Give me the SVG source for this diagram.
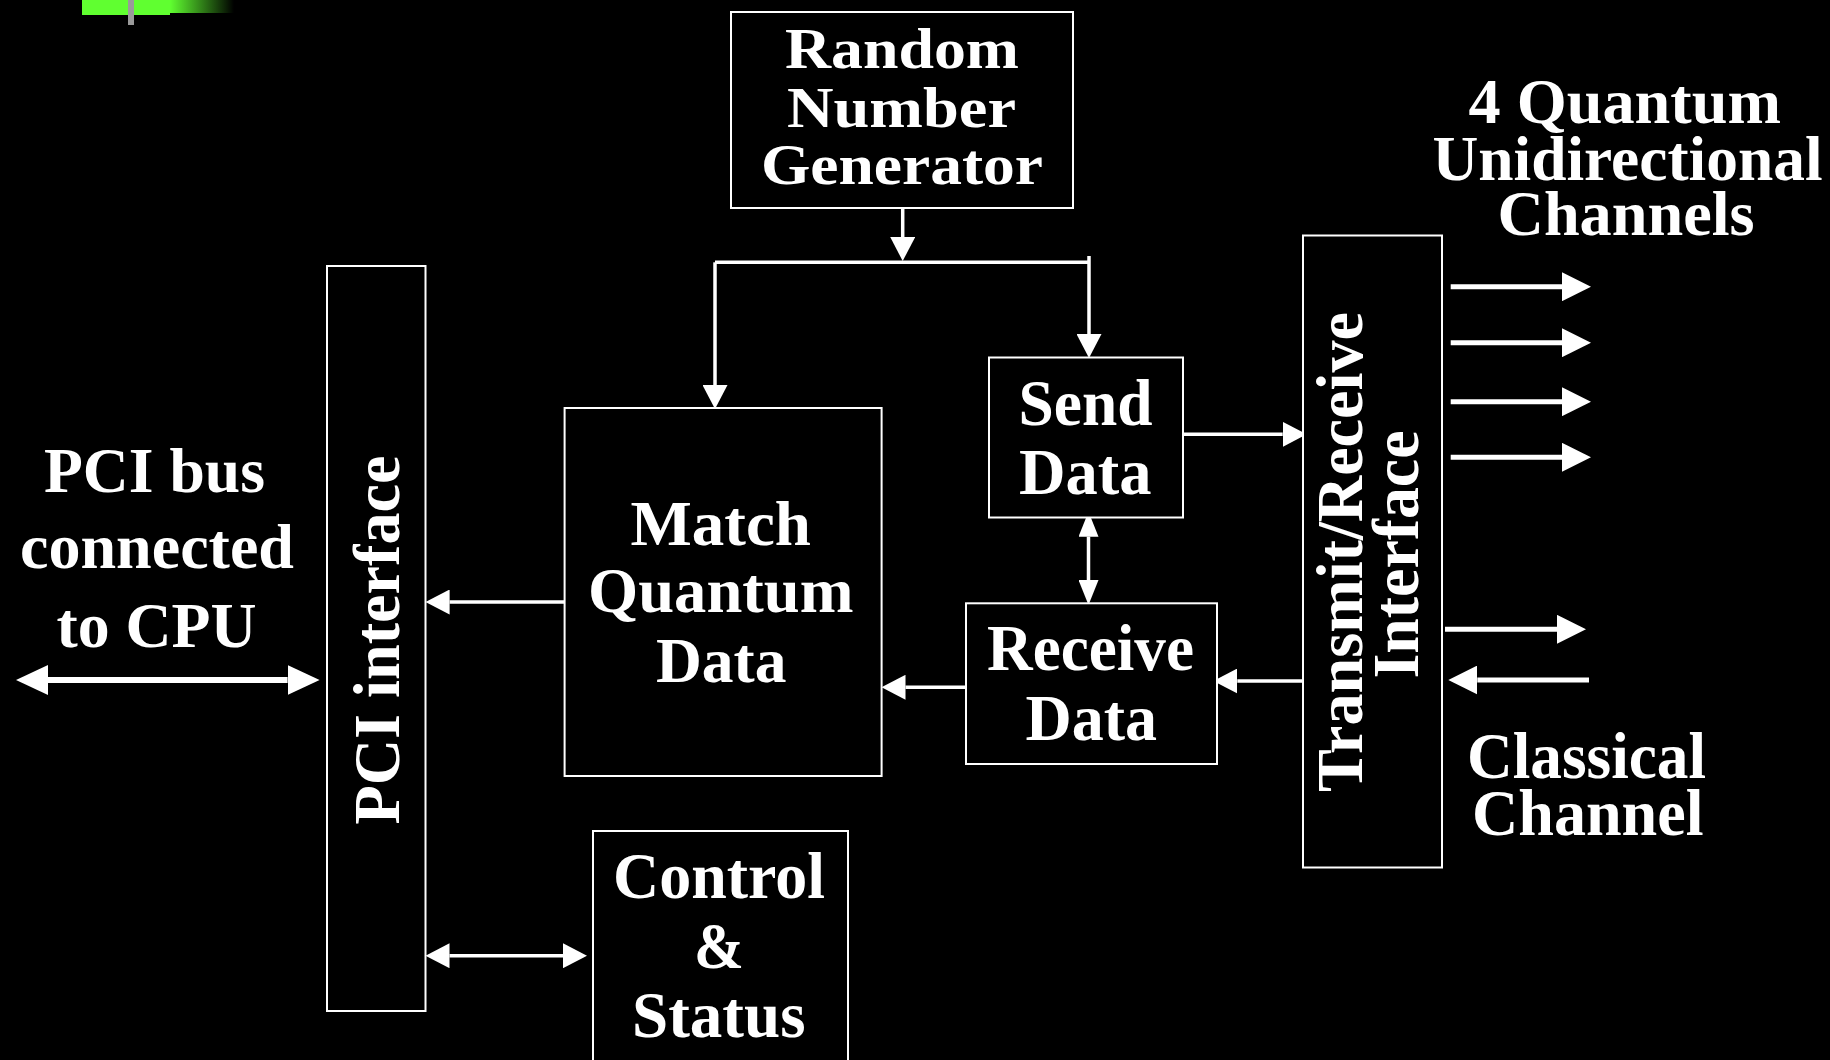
<svg xmlns="http://www.w3.org/2000/svg" width="1830" height="1060" viewBox="0 0 1830 1060">
  <defs>
    <style>
      .bg { fill: #000; }
      .box { fill: #000; stroke: #fff; stroke-width: 2; }
      .t { font-family: "Liberation Serif", "Times New Roman", serif; font-weight: bold; fill: #fff; }
      .ln { fill: none; stroke: #fff; stroke-width: 3.5; }
      .ln-q { fill: none; stroke: #fff; stroke-width: 5; }
      .ln-b { fill: none; stroke: #fff; stroke-width: 6; }
    </style>
    <linearGradient id="fade" x1="0" y1="0" x2="1" y2="0">
      <stop offset="0" stop-color="#60ff30"/>
      <stop offset="1" stop-color="#000"/>
    </linearGradient>
    <!-- arrowheads: base sits on the line end, tip points forward -->
    <marker id="ah" viewBox="0 0 10 10" refX="0" refY="5" markerUnits="userSpaceOnUse" markerWidth="24" markerHeight="25" orient="auto-start-reverse" preserveAspectRatio="none">
      <path d="M0,0 L10,5 L0,10 Z" fill="#fff"/>
    </marker>
    <marker id="ah-n" viewBox="0 0 10 10" refX="0" refY="5" markerUnits="userSpaceOnUse" markerWidth="25" markerHeight="20" orient="auto-start-reverse" preserveAspectRatio="none">
      <path d="M0,0 L10,5 L0,10 Z" fill="#fff"/>
    </marker>
    <marker id="ah-q" viewBox="0 0 10 10" refX="0" refY="5" markerUnits="userSpaceOnUse" markerWidth="29" markerHeight="29" orient="auto-start-reverse" preserveAspectRatio="none">
      <path d="M0,0 L10,5 L0,10 Z" fill="#fff"/>
    </marker>
    <marker id="ah-b" viewBox="0 0 10 10" refX="0" refY="5" markerUnits="userSpaceOnUse" markerWidth="32" markerHeight="30" orient="auto-start-reverse" preserveAspectRatio="none">
      <path d="M0,0 L10,5 L0,10 Z" fill="#fff"/>
    </marker>
  </defs>

  <rect class="bg" x="0" y="0" width="1830" height="1060"/>

  <!-- corner tab -->
  <g id="corner-tab">
    <rect x="82" y="0" width="88" height="15" fill="#60ff30"/>
    <rect x="170" y="0" width="64" height="13" fill="url(#fade)"/>
    <rect x="128" y="0" width="6" height="25" fill="#9a9a9a"/>
  </g>

  <!-- connectors -->
  <g id="connectors">
    <!-- RNG fan-out -->
    <path class="ln" d="M902.7,208 V237" marker-end="url(#ah)"/>
    <path class="ln" d="M715,262.3 H1089"/>
    <path class="ln" d="M715,262.3 V385" marker-end="url(#ah)"/>
    <path class="ln" d="M1089,256 V334" marker-end="url(#ah)"/>
    <!-- Send Data -> Transmit/Receive -->
    <path class="ln" d="M1183,434.3 H1282.7" marker-end="url(#ah)"/>
    <!-- Send Data <-> Receive Data -->
    <path class="ln" d="M1088.5,536.7 V580" marker-start="url(#ah-n)" marker-end="url(#ah-n)"/>
    <!-- Transmit/Receive -> Receive Data -->
    <path class="ln" d="M1304,681 H1237.3" marker-end="url(#ah)"/>
    <!-- Receive Data -> Match -->
    <path class="ln" d="M966,687.3 H905.5" marker-end="url(#ah)"/>
    <!-- Match -> PCI interface -->
    <path class="ln" d="M564.6,602 H449.6" marker-end="url(#ah)"/>
    <!-- PCI interface <-> Control & Status -->
    <path class="ln" d="M449.5,955.7 H563" marker-start="url(#ah)" marker-end="url(#ah)"/>
    <!-- PCI bus <-> PCI interface -->
    <path class="ln-b" d="M48,680 H287.6" marker-start="url(#ah-b)" marker-end="url(#ah-b)"/>
    <!-- quantum channels -->
    <path class="ln-q" d="M1450.7,286.7 H1562" marker-end="url(#ah-q)"/>
    <path class="ln-q" d="M1450.7,342.7 H1562" marker-end="url(#ah-q)"/>
    <path class="ln-q" d="M1450.7,401.7 H1562" marker-end="url(#ah-q)"/>
    <path class="ln-q" d="M1450.7,457.3 H1562" marker-end="url(#ah-q)"/>
    <!-- classical channel -->
    <path class="ln-q" d="M1445,629.3 H1557" marker-end="url(#ah-q)"/>
    <path class="ln-q" d="M1589,680 H1477.3" marker-end="url(#ah-q)"/>
  </g>

  <g id="rng">
    <rect class="box" x="731" y="12" width="342" height="196"/>
    <text class="t" font-size="56" x="785" y="68" textLength="234" lengthAdjust="spacingAndGlyphs">Random</text>
    <text class="t" font-size="56" x="787" y="127" textLength="229" lengthAdjust="spacingAndGlyphs">Number</text>
    <text class="t" font-size="56" x="761" y="184" textLength="282" lengthAdjust="spacingAndGlyphs">Generator</text>
  </g>

  <g id="match">
    <rect class="box" x="564.6" y="408" width="317" height="368"/>
    <text class="t" font-size="63" x="630.5" y="545" textLength="180.5" lengthAdjust="spacingAndGlyphs">Match</text>
    <text class="t" font-size="63" x="588" y="612" textLength="265.5" lengthAdjust="spacingAndGlyphs">Quantum</text>
    <text class="t" font-size="63" x="656" y="682" textLength="130.5" lengthAdjust="spacingAndGlyphs">Data</text>
  </g>

  <g id="send-data">
    <rect class="box" x="989" y="357.5" width="194" height="160"/>
    <text class="t" font-size="66" x="1018.5" y="425" textLength="134" lengthAdjust="spacingAndGlyphs">Send</text>
    <text class="t" font-size="66" x="1019" y="494" textLength="132.5" lengthAdjust="spacingAndGlyphs">Data</text>
  </g>

  <g id="receive-data">
    <rect class="box" x="966" y="603.3" width="251" height="160.7"/>
    <text class="t" font-size="66" x="987" y="670" textLength="207" lengthAdjust="spacingAndGlyphs">Receive</text>
    <text class="t" font-size="66" x="1025.6" y="740" textLength="131.5" lengthAdjust="spacingAndGlyphs">Data</text>
  </g>

  <g id="control-status">
    <rect class="box" x="593" y="831" width="255" height="260"/>
    <text class="t" font-size="65" x="613" y="898.3" textLength="212" lengthAdjust="spacingAndGlyphs">Control</text>
    <text class="t" font-size="65" x="694" y="968.3" textLength="50" lengthAdjust="spacingAndGlyphs">&amp;</text>
    <text class="t" font-size="65" x="632" y="1036.7" textLength="173.5" lengthAdjust="spacingAndGlyphs">Status</text>
  </g>

  <g id="pci-interface">
    <rect class="box" x="327" y="266" width="98.5" height="745"/>
    <text class="t" font-size="66" transform="translate(399,824.5) rotate(-90)" x="0" y="0" textLength="369" lengthAdjust="spacingAndGlyphs">PCI interface</text>
  </g>

  <g id="transmit-receive">
    <rect class="box" x="1303" y="235.5" width="139" height="632"/>
    <text class="t" font-size="65" transform="translate(1361.7,792) rotate(-90)" x="0" y="0" textLength="480" lengthAdjust="spacingAndGlyphs">Transmit/Receive</text>
    <text class="t" font-size="65" transform="translate(1418.3,678.5) rotate(-90)" x="0" y="0" textLength="248" lengthAdjust="spacingAndGlyphs">Interface</text>
  </g>

  <g id="pci-bus-label">
    <text class="t" font-size="63" x="44" y="491.7" textLength="221" lengthAdjust="spacingAndGlyphs">PCI bus</text>
    <text class="t" font-size="63" x="20" y="568" textLength="274" lengthAdjust="spacingAndGlyphs">connected</text>
    <text class="t" font-size="63" x="56.5" y="646.7" textLength="200" lengthAdjust="spacingAndGlyphs">to CPU</text>
  </g>

  <g id="quantum-label">
    <text class="t" font-size="64" x="1468.5" y="123.3" textLength="312.5" lengthAdjust="spacingAndGlyphs">4 Quantum</text>
    <text class="t" font-size="64" x="1432.5" y="180" textLength="390" lengthAdjust="spacingAndGlyphs">Unidirectional</text>
    <text class="t" font-size="64" x="1497.5" y="235" textLength="257" lengthAdjust="spacingAndGlyphs">Channels</text>
  </g>

  <g id="classical-label">
    <text class="t" font-size="65" x="1467" y="778.3" textLength="239" lengthAdjust="spacingAndGlyphs">Classical</text>
    <text class="t" font-size="65" x="1472" y="835" textLength="231.5" lengthAdjust="spacingAndGlyphs">Channel</text>
  </g>
</svg>
